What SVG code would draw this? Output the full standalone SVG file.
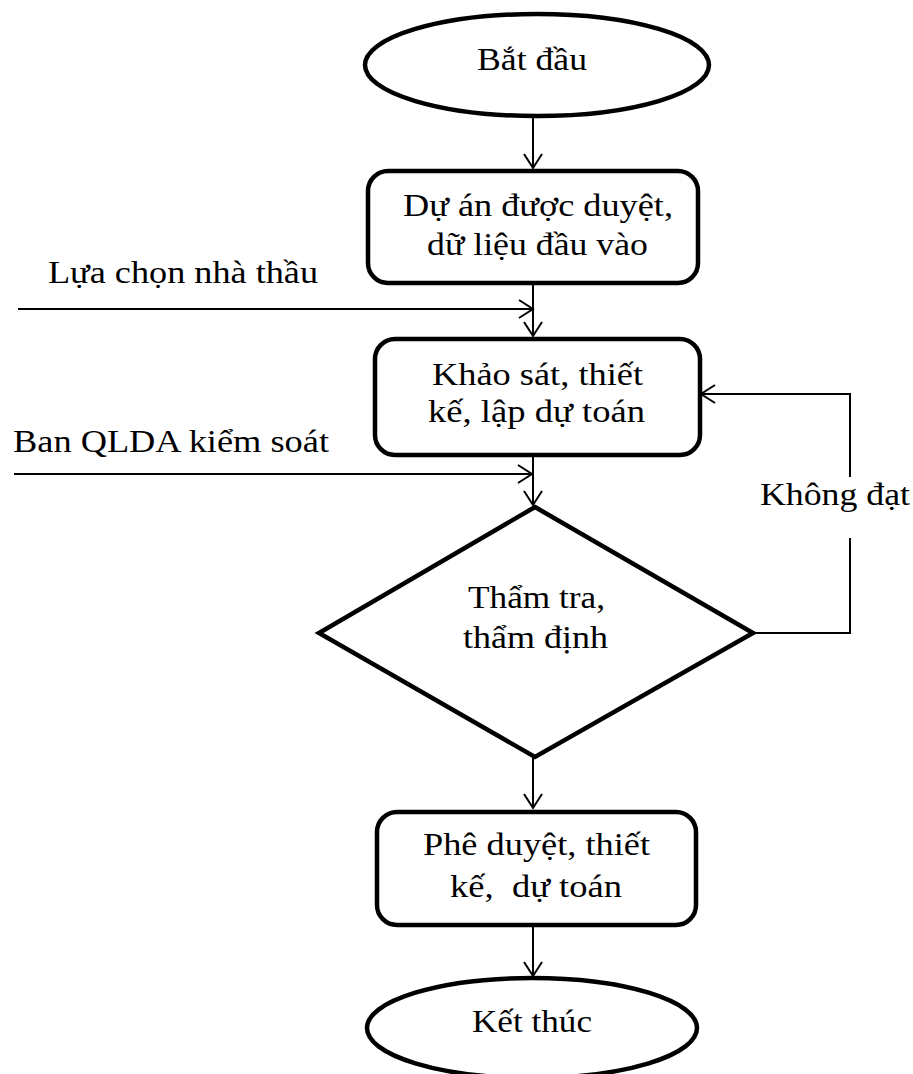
<svg xmlns="http://www.w3.org/2000/svg" width="913" height="1074" viewBox="0 0 913 1074">
  <style>
    .shape { fill: #fff; stroke: #000; stroke-width: 4.5; }
    .conn { fill: none; stroke: #000; stroke-width: 2; }
    .lbl { font-family: "Liberation Serif", "Times New Roman", serif; font-size: 32px; fill: #000; }
    .mid { text-anchor: middle; }
  </style>
  <defs>
    <marker id="arrow" markerUnits="userSpaceOnUse" markerWidth="20" markerHeight="22" refX="15" refY="10" orient="auto">
      <path d="M1,1 L15,10 L1,19" fill="none" stroke="#000" stroke-width="2"/>
    </marker>
  </defs>

  <rect width="913" height="1074" fill="#fff"/>

  <!-- connectors -->
  <g id="connectors">
    <line class="conn" x1="533" y1="117" x2="533" y2="168" marker-end="url(#arrow)"/>
    <line class="conn" x1="533" y1="284" x2="533" y2="336" marker-end="url(#arrow)"/>
    <line class="conn" x1="18" y1="309" x2="533" y2="309" marker-end="url(#arrow)"/>
    <line class="conn" x1="533" y1="456" x2="533" y2="505" marker-end="url(#arrow)"/>
    <line class="conn" x1="14" y1="474" x2="532" y2="474" marker-end="url(#arrow)"/>
    <line class="conn" x1="533" y1="758" x2="533" y2="808" marker-end="url(#arrow)"/>
    <line class="conn" x1="533" y1="926" x2="533" y2="976" marker-end="url(#arrow)"/>
    <!-- "Không đạt" return loop -->
    <polyline class="conn" points="753,633 850,633 850,538"/>
    <polyline class="conn" points="850,477 850,394 701,394" marker-end="url(#arrow)"/>
  </g>

  <!-- side inputs -->
  <g id="input-contractor">
    <text class="lbl" x="48" y="283" textLength="270" lengthAdjust="spacingAndGlyphs">Lựa chọn nhà thầu</text>
  </g>
  <g id="input-control">
    <text class="lbl" x="13" y="452" textLength="316" lengthAdjust="spacingAndGlyphs">Ban QLDA kiểm soát</text>
  </g>
  <g id="label-fail">
    <text class="lbl" x="760" y="505" textLength="150" lengthAdjust="spacingAndGlyphs">Không đạt</text>
  </g>

  <!-- nodes -->
  <g id="start">
    <ellipse class="shape" cx="537" cy="65" rx="172" ry="51"/>
    <text class="lbl mid" x="532" y="70" textLength="110" lengthAdjust="spacingAndGlyphs">Bắt đầu</text>
  </g>

  <g id="approved-project">
    <rect class="shape" x="368" y="171" width="330" height="112" rx="20" ry="20"/>
    <text class="lbl mid" x="538" y="216" textLength="270" lengthAdjust="spacingAndGlyphs">Dự án được duyệt,</text>
    <text class="lbl mid" x="537.5" y="255" textLength="221" lengthAdjust="spacingAndGlyphs">dữ liệu đầu vào</text>
  </g>

  <g id="survey-design">
    <rect class="shape" x="375" y="339" width="325" height="116" rx="20" ry="20"/>
    <text class="lbl mid" x="537.5" y="385" textLength="211" lengthAdjust="spacingAndGlyphs">Khảo sát, thiết</text>
    <text class="lbl mid" x="536.5" y="422" textLength="217" lengthAdjust="spacingAndGlyphs">kế, lập dự toán</text>
  </g>

  <g id="review">
    <polygon class="shape" points="535,507 753,633 535,757 319,633"/>
    <text class="lbl mid" x="536.5" y="608" textLength="137" lengthAdjust="spacingAndGlyphs">Thẩm tra,</text>
    <text class="lbl mid" x="535.5" y="648" textLength="145" lengthAdjust="spacingAndGlyphs">thẩm định</text>
  </g>

  <g id="approval">
    <rect class="shape" x="377" y="812" width="319" height="113" rx="20" ry="20"/>
    <text class="lbl mid" x="536.5" y="855" textLength="227" lengthAdjust="spacingAndGlyphs">Phê duyệt, thiết</text>
    <text class="lbl mid" x="536" y="897" textLength="172" lengthAdjust="spacingAndGlyphs" xml:space="preserve">kế,  dự toán</text>
  </g>

  <g id="end">
    <ellipse class="shape" cx="532" cy="1028" rx="165" ry="50"/>
    <text class="lbl mid" x="532" y="1032" textLength="120" lengthAdjust="spacingAndGlyphs">Kết thúc</text>
  </g>
</svg>
